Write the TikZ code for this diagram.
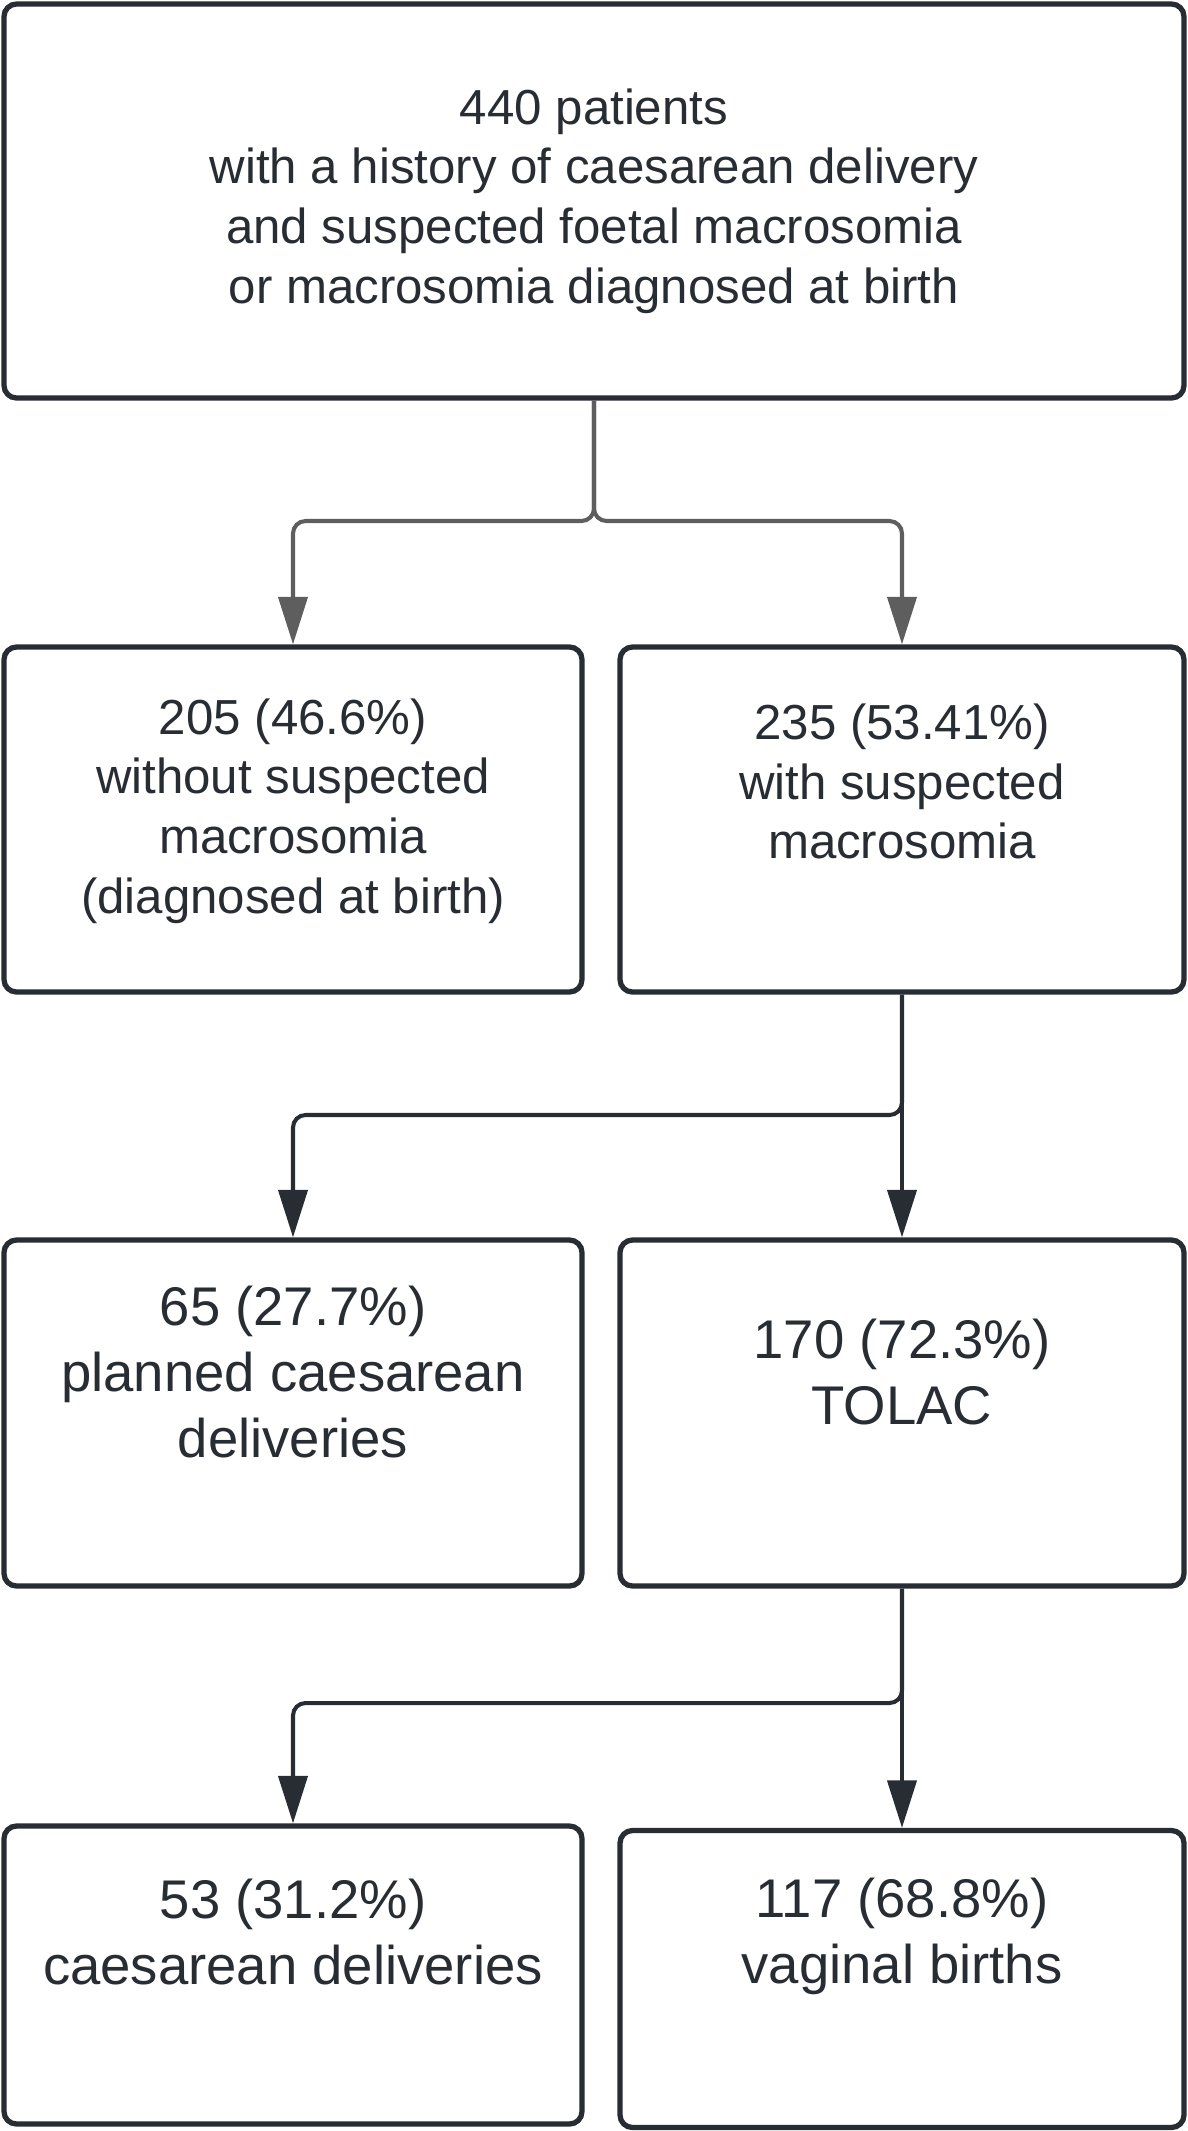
\documentclass[tikz,border=0pt]{standalone}
\usepackage{fontspec}
\setmainfont{Liberation Sans}
\usetikzlibrary{arrows.meta,positioning}
\definecolor{boxline}{HTML}{282C33}
\definecolor{greyline}{HTML}{5E5E5E}

\begin{document}
\begin{tikzpicture}[
  box/.style={draw=boxline,line width=3pt,rounded corners=0.25cm,fill=white,minimum width=#1},
  txt/.style={align=center,font=\fontsize{28}{34}\selectfont,text=boxline},
  bigtxt/.style={txt,font=\fontsize{31}{37.5}\selectfont},
  conn/.style={line width=2.3pt,rounded corners=0.25cm,-{Triangle[length=0.95cm,width=0.58cm]}}
  ]
\useasboundingbox (0,0) rectangle (23.76,-42.62);

\node[box=23.6cm,minimum height=7.88cm,txt] (N0) at (11.88,-4.02)
  {440 patients\\with a history of caesarean delivery\\and suspected foetal macrosomia\\or macrosomia diagnosed at birth};

\node[box=11.56cm,minimum height=6.9cm] (N1) at (5.86,-16.39) {};
\node[box=11.28cm,minimum height=6.9cm] (N2) at (18.04,-16.39) {};
\node[box=11.56cm,minimum height=6.92cm] (N3) at (5.86,-28.26) {};
\node[box=11.28cm,minimum height=6.92cm] (N4) at (18.04,-28.26) {};
\node[box=11.56cm,minimum height=5.96cm] (N5) at (5.86,-39.50) {};
\node[box=11.28cm,minimum height=5.94cm] (N6) at (18.04,-39.58) {};

\node[txt] (T1) at (5.86,-16.22) {205 (46.6\%)\\without suspected\\macrosomia\\(diagnosed at birth)};
\node[txt] (T2) at (18.04,-15.63) {235 (53.41\%)\\with suspected\\macrosomia};
\node[bigtxt] (T3) at (5.86,-27.44) {65 (27.7\%)\\planned caesarean\\deliveries};
\node[bigtxt] (T4) at (18.04,-27.44) {170 (72.3\%)\\TOLAC};
\node[bigtxt] (T5) at (5.86,-38.64) {53 (31.2\%)\\caesarean deliveries};
\node[bigtxt] (T6) at (18.04,-38.72) {117 (68.8\%)\\vaginal births};

\coordinate (J0) at (11.88,-10.42);
\coordinate (J1) at (18.04,-22.30);
\coordinate (J2) at (18.04,-34.06);

\draw[conn,greyline] (N0.south) -- (J0) -| (N1.north);
\draw[conn,greyline] (N0.south) -- (J0) -| (N2.north);
\draw[conn,boxline] (N2.south) -- (J1) -| (N3.north);
\draw[conn,boxline] (N2.south) -- (N4.north);
\draw[conn,boxline] (N4.south) -- (J2) -| (N5.north);
\draw[conn,boxline] (N4.south) -- (N6.north);
\end{tikzpicture}
\end{document}
